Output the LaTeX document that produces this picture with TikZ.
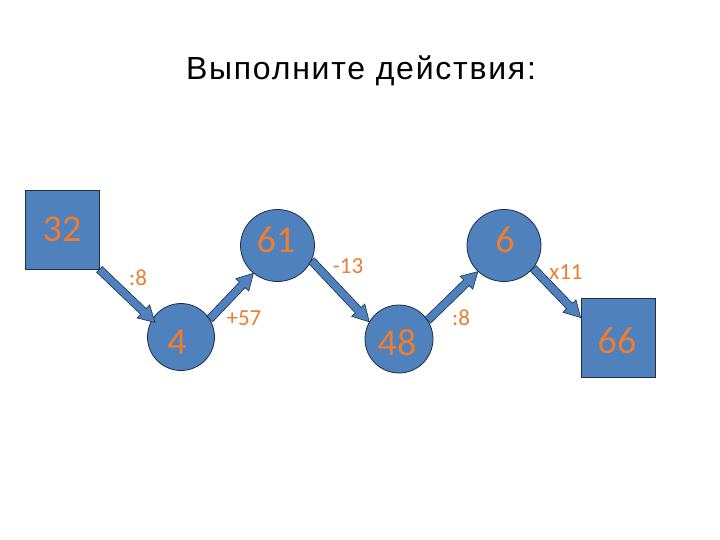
\documentclass[tikz,border=0pt]{standalone}
\usepackage{fontspec}
\setmainfont{Carlito}
\newfontfamily\titlefont[LetterSpace=5.5]{Liberation Sans}
\usetikzlibrary{calc,shapes.geometric}
\definecolor{boxblue}{RGB}{79,129,189}
\definecolor{edgeblue}{RGB}{30,45,75}
\definecolor{numorange}{RGB}{237,125,49}
\tikzset{
  numbox/.style={rectangle, draw=edgeblue, fill=boxblue, line width=0.8pt,
    minimum width=74pt, minimum height=79pt, inner sep=0pt},
  numcirc/.style={ellipse, draw=edgeblue, fill=boxblue, line width=0.8pt,
    minimum width=#1, inner sep=0pt},
  numtext/.style={anchor=base, inner sep=0pt, text=numorange,
    font=\fontsize{38}{40}\selectfont},
  oplabel/.style={anchor=base, text=numorange, font=\fontsize{23}{25}\selectfont, inner sep=0pt},
  blockarrow/.style={draw=edgeblue, fill=boxblue, line width=0.6pt, line join=miter}
}
% block arrow from #1 to #2
\newcommand{\blkarrow}[2]{%
  \coordinate (ba-c) at ($(#2)!16pt!(#1)$);
  \draw[blockarrow] ($(#1)!4pt!90:(#2)$) -- ($(ba-c)!4pt!90:(#2)$)
    -- ($(ba-c)!9pt!90:(#2)$) -- (#2) -- ($(ba-c)!9pt!-90:(#2)$)
    -- ($(ba-c)!4pt!-90:(#2)$) -- ($(#1)!4pt!-90:(#2)$) -- cycle;
}
\begin{document}
\begin{tikzpicture}[x=1pt,y=-1pt]
\useasboundingbox (0,0) rectangle (720,540);
\node[anchor=base, font=\titlefont\fontsize{32}{34}\selectfont, inner sep=0pt] (title) at (361,79.5) {Выполните действия:};

\node[numbox] (n32) at (62,229.5) {};
\node[numcirc=67pt, minimum height=67pt] (n4) at (181,337) {};
\node[numcirc=74pt, minimum height=72pt] (n61) at (277.5,245.5) {};
\node[numcirc=68pt, minimum height=68pt] (n48) at (399,339) {};
\node[numcirc=74pt, minimum height=72pt] (n6) at (504,245.5) {};
\node[numbox] (n66) at (618,337.5) {};

\coordinate (a1s) at (n32.south east);
\coordinate (a1e) at (155,322.5);
\coordinate (a2s) at (n4.32);
\coordinate (a2e) at (n61.229);
\coordinate (a3s) at (n61.-24);
\coordinate (a3e) at (n48.150);
\coordinate (a4s) at (n48.33);
\coordinate (a4e) at (n6.225);
\coordinate (a5s) at (n6.-38);
\coordinate (a5e) at ($(n66.north west)!0.25!(n66.south west)$);

\blkarrow{a1s}{a1e}
\blkarrow{a2s}{a2e}
\blkarrow{a3s}{a3e}
\blkarrow{a4s}{a4e}
\blkarrow{a5s}{a5e}

\node[numtext] (t32) at (62,241) {32};
\node[numtext] (t4) at (177,354) {4};
\node[numtext] (t61) at (276,252) {61};
\node[numtext] (t48) at (397,355) {48};
\node[numtext] (t6) at (505,252) {6};
\node[numtext] (t66) at (617,353) {66};

\node[oplabel] (l1) at (138,285) {:8};
\node[oplabel] (l2) at (244,325) {+57};
\node[oplabel] (l3) at (348,273) {-13};
\node[oplabel] (l4) at (461,325) {:8};
\node[oplabel] (l5) at (566,279) {x11};
\end{tikzpicture}
\end{document}
